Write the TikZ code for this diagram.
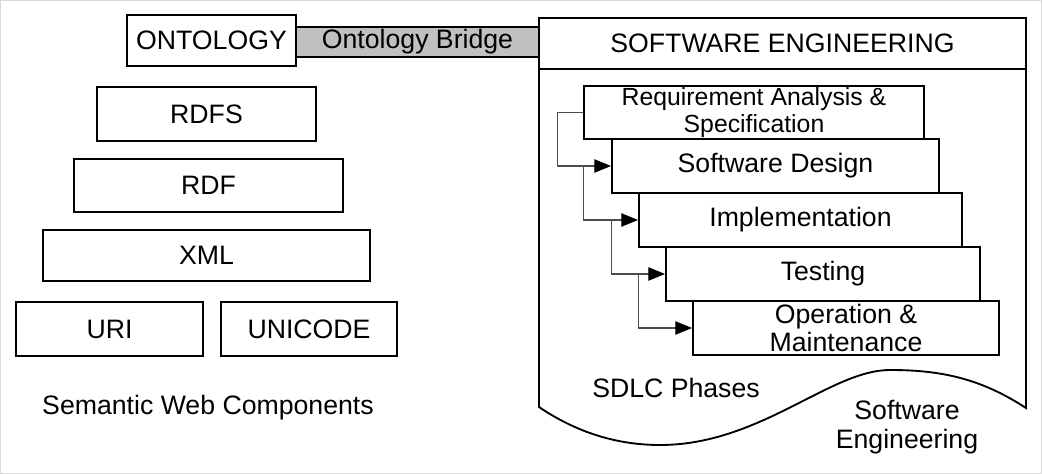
\documentclass[tikz,border=0pt]{standalone}
\usepackage{fontspec}
\setmainfont{Liberation Sans}
\usetikzlibrary{arrows.meta}

\tikzset{every picture/.style={line width=1.4pt}}
\tikzset{
  layer/.style 2 args={draw, inner sep=0pt, minimum width=#1*0.75pt, minimum height=#2*0.75pt, font=\fontsize{20}{22}\selectfont},
  phase/.style 2 args={layer={#1}{#2}, align=center, font=\fontsize{20}{21.5}\selectfont},
  label/.style={inner sep=0.75pt, align=center, font=\fontsize{20}{21.7}\selectfont},
  flow/.style={line width=0.8pt, black!70, -{Triangle[length=12.5pt,width=10pt,black]}}
}

\begin{document}
\begin{tikzpicture}[x=0.75pt,y=0.75pt,yscale=-1,xscale=1]
\useasboundingbox (0,0) rectangle (1042,474);
%frame
\draw [line width=0.75pt, black!15] (0.5,0.5) rectangle (1041.5,473.5);

%Semantic web stack
\node [layer={243}{30}, fill={rgb,255:red,192;green,192;blue,192}] (bridge) at (417.5,42) {Ontology Bridge};
\node [layer={169}{51}, fill=white] (onto) at (211.5,40.5) {ONTOLOGY};
\node [layer={219}{54}] (rdfs) at (206.5,114) {RDFS};
\node [layer={269}{53}] (rdf) at (208.5,185.5) {RDF};
\node [layer={327}{51}] (xml) at (206.5,255.5) {XML};
\node [layer={187}{54}] (uri) at (109.5,329) {URI};
\node [layer={176}{54}] (uni) at (309,329) {UNICODE};
% Text Node
\node [label] (swc) at (208,408) {Semantic Web Components};

%Software engineering document shape
\draw (539,69) -- (539,407) .. controls (570,428) and (610,445) .. (660,445) .. controls (760,445) and (830,370) .. (890,370) .. controls (940,370) and (980,378) .. (1026,408) -- (1026,69) ;
\node [layer={487}{51}] (se) at (782.5,43.5) {SOFTWARE ENGINEERING};

%SDLC phases
\node [phase={340}{53}, font=\fontsize{18.6}{20.3}\selectfont] (req) at (754,112.5) {Requirement Analysis \&\\Specification};
\node [phase={327}{54}] (des) at (775.5,166) {Software Design};
\node [phase={323}{54}] (imp) at (800.5,220) {Implementation};
\node [phase={314}{54}] (tst) at (823,274) {Testing};
\node [phase={306}{54}] (opm) at (846,328) {Operation \&\\Maintenance};

%Straight Lines
\draw [flow] (req.west) -- ++(-26,0) |- (des.west) ;
\draw [flow] (req.west |- des.west) |- (imp.west) ;
\draw [flow] (des.west |- imp.west) |- (tst.west) ;
\draw [flow] (imp.west |- tst.west) |- (opm.west) ;

% Text Node
\node [label] (sdlc) at (676,388) {SDLC Phases};
% Text Node
\node [label] (selbl) at (907,427) {Software\\Engineering};

\end{tikzpicture}
\end{document}
